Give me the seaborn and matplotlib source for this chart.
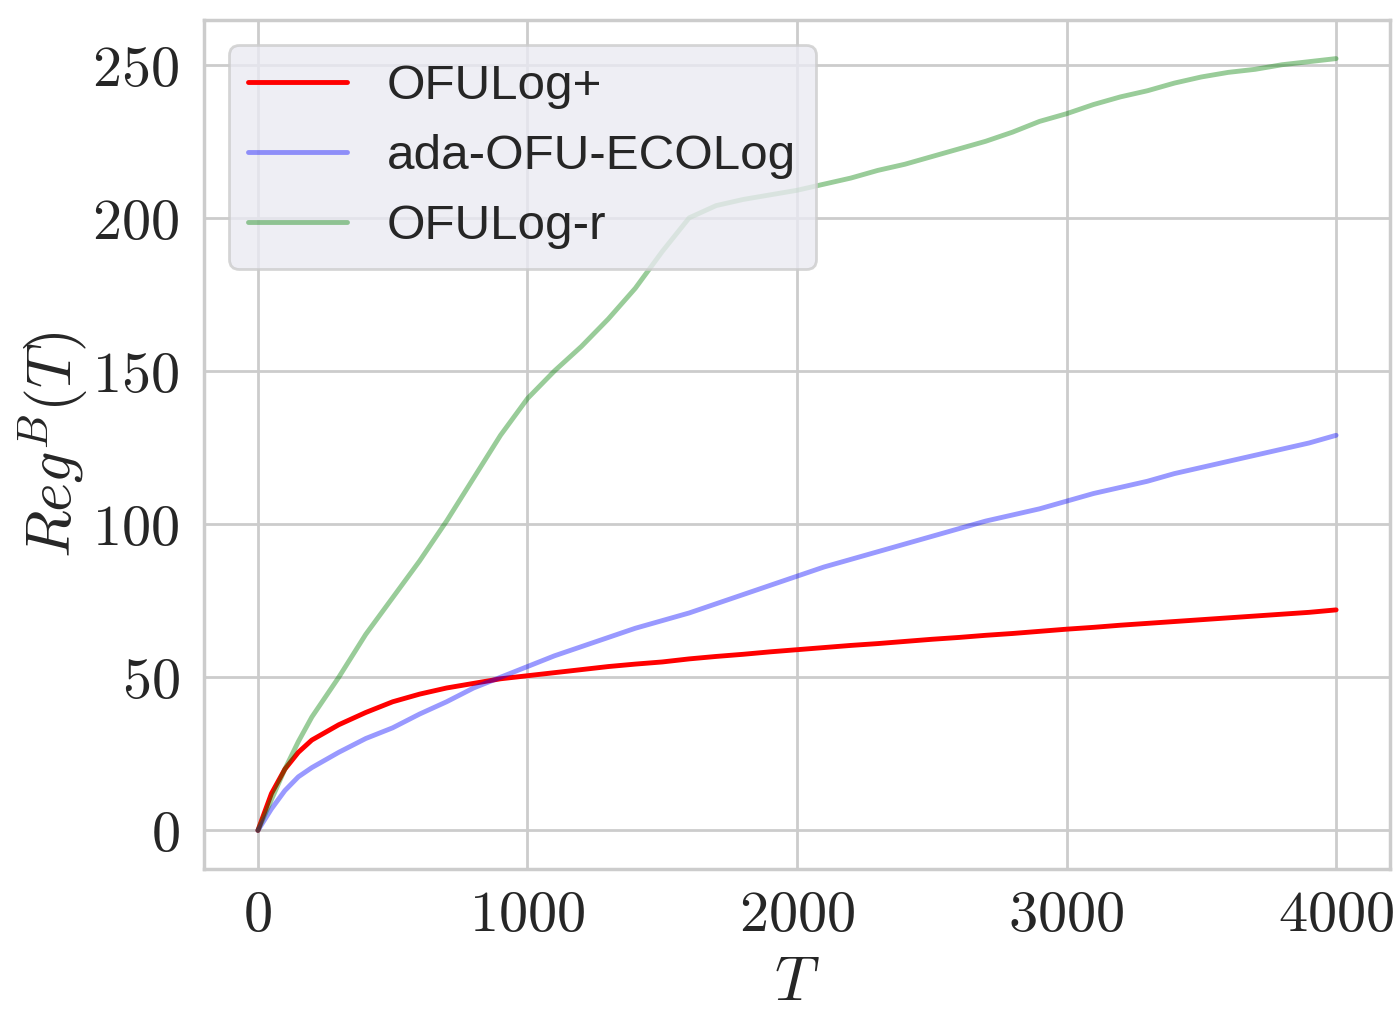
import numpy as np
import pandas as pd
import matplotlib
matplotlib.use("Agg")
import matplotlib.pyplot as plt
import seaborn as sns
from matplotlib.ticker import FuncFormatter

# ---- data ----
T = [0, 50, 100, 150, 200, 300, 400, 500, 600, 700, 800, 900, 1000,
     1100, 1200, 1300, 1400, 1500, 1600, 1700, 1800, 1900, 2000,
     2100, 2200, 2300, 2400, 2500, 2600, 2700, 2800, 2900, 3000,
     3100, 3200, 3300, 3400, 3500, 3600, 3700, 3800, 3900, 4000]

ofulog_plus = [0, 12, 20, 25.5, 29.5, 34.5, 38.5, 42, 44.5, 46.5, 48, 49.5, 50.5,
               51.5, 52.5, 53.5, 54.3, 55, 56, 56.8, 57.5, 58.3, 59,
               59.7, 60.4, 61, 61.7, 62.4, 63, 63.7, 64.3, 65, 65.7,
               66.3, 67, 67.6, 68.2, 68.8, 69.4, 70, 70.6, 71.2, 72]

ada_ofu_ecolog = [0, 7, 13, 17.5, 20.5, 25.5, 30, 33.5, 38, 42, 46.5, 50, 53.5,
                  57, 60, 63, 66, 68.5, 71, 74, 77, 80, 83,
                  86, 88.5, 91, 93.5, 96, 98.5, 101, 103, 105, 107.5,
                  110, 112, 114, 116.5, 118.5, 120.5, 122.5, 124.5, 126.5, 129]

ofulog_r = [0, 10, 20, 29, 37, 50, 64, 76, 88, 101, 115, 129, 141,
            150, 158, 167, 177, 189, 200, 204, 206, 207.5, 209,
            211, 213, 215.5, 217.5, 220, 222.5, 225, 228, 231.5, 234,
            237, 239.5, 241.5, 244, 246, 247.5, 248.5, 250, 251, 252]

labels = ["OFULog+", "ada-OFU-ECOLog", "OFULog-r"]
xticks = [0, 1000, 2000, 3000, 4000]
yticks = [0, 50, 100, 150, 200, 250]

# ---- style ----
sns.set_theme(style="whitegrid")
plt.rcParams["mathtext.fontset"] = "cm"
plt.rcParams["font.family"] = ["Liberation Sans", "DejaVu Sans"]

fig, ax = plt.subplots(figsize=(6.985, 5.055), dpi=200)
fig.subplots_adjust(left=204 / 1397, right=1390 / 1397,
                    top=1 - 20 / 1011, bottom=1 - 869 / 1011)

series = [(ofulog_plus, labels[0], "red", 1.0),
          (ada_ofu_ecolog, labels[1], "blue", 0.4),
          (ofulog_r, labels[2], "green", 0.4)]
for vals, lab, col, a in series:
    df = pd.DataFrame({"T": T, "reg": vals})
    sns.lineplot(data=df, x="T", y="reg", color=col, alpha=a, linewidth=1.75,
                 label=lab, ax=ax)

ax.set_xticks(xticks)
ax.set_yticks(yticks)
ax.xaxis.set_major_formatter(FuncFormatter(lambda v, p: r"$%d$" % v))
ax.yaxis.set_major_formatter(FuncFormatter(lambda v, p: r"$%d$" % v))
ax.tick_params(axis="both", labelsize=21, length=0)
ax.tick_params(axis="x", pad=7.3)
ax.tick_params(axis="y", pad=8.8)
ax.set_xlabel(r"$T$", fontsize=22.3, labelpad=4.5)
ax.set_ylabel(r"$Reg^B(T)$", fontsize=22.3, labelpad=1)
for s in ax.spines.values():
    s.set_color("#cccccc")

leg = ax.legend(loc="upper left", fontsize=17.8, facecolor="#eaeaf2",
                edgecolor="#cccccc", framealpha=0.8, borderaxespad=0.5)

fig.savefig("out.png", dpi=200)
